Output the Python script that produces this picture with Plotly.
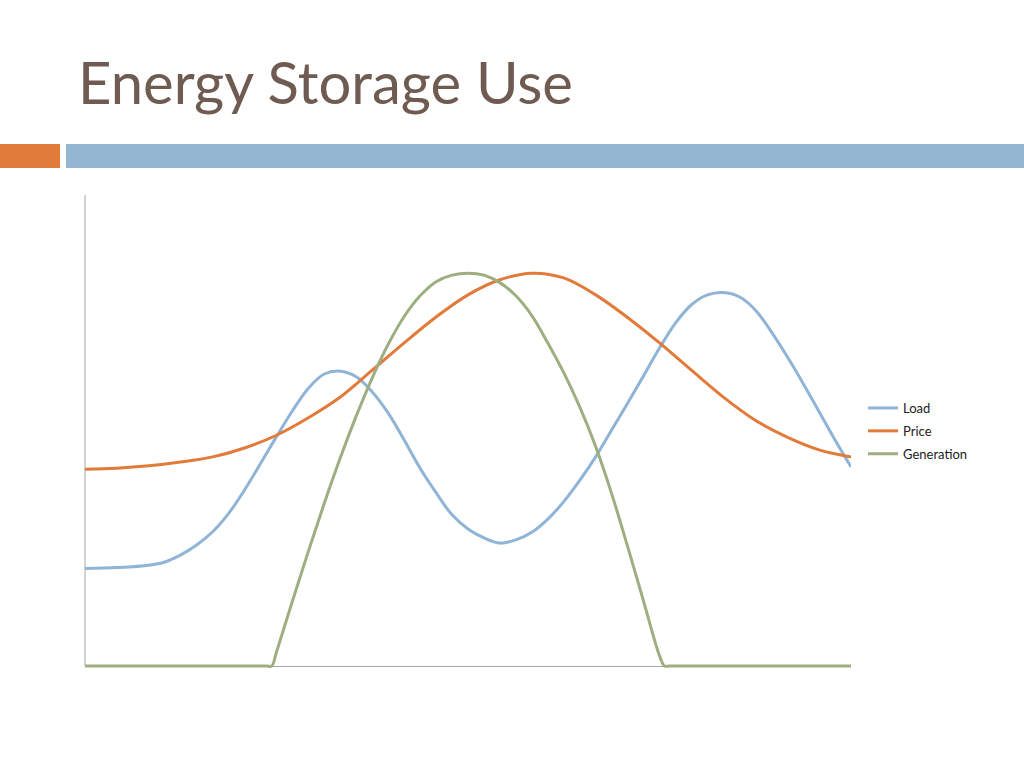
import plotly.graph_objects as go

# Hour of day (x) and relative level (y, 0-100)
load_x = [0, 1, 2, 2.5, 3, 3.5, 4, 4.5, 5, 5.5, 6, 6.5, 7, 7.5, 8, 8.5, 9, 9.5, 10, 10.5,
          11, 11.5, 12, 12.5, 13, 13.5, 14, 14.5, 15, 15.5, 16, 16.5, 17, 17.5, 18, 18.5,
          19, 19.5, 20, 20.5, 21, 21.5, 22, 22.5, 23, 23.5, 24]
load_y = [20.7, 20.9, 21.4, 22.1, 23.6, 25.7, 28.5, 32.4, 37.4, 43.0, 48.7, 54.2, 59.0,
          62.0, 62.6, 61.4, 58.2, 53.7, 48.0, 42.0, 36.8, 32.1, 29.1, 27.2, 26.1, 26.8,
          28.4, 31.2, 34.9, 39.4, 44.4, 50.1, 55.8, 61.6, 67.5, 72.8, 76.7, 78.8, 79.3,
          78.4, 75.6, 71.0, 65.7, 60.0, 54.0, 48.0, 42.3]

price_x = list(range(25))
price_y = [41.8, 42.0, 42.5, 43.3, 44.4, 46.3, 49.0, 52.7, 57.1, 62.8, 68.6, 74.1, 78.8,
           82.0, 83.4, 82.4, 78.8, 74.0, 68.6, 62.8, 57.1, 52.2, 48.6, 45.9, 44.4]

gen_x = [0, 1, 2, 3, 4, 5, 5.5, 5.7, 5.85, 6, 6.5, 7, 7.5, 8, 8.5, 9, 9.5, 10, 10.5, 11,
         11.5, 12, 12.5, 13, 13.5, 14, 14.5, 15, 15.5, 16, 16.5, 17, 17.5, 18, 18.16, 18.3,
         19, 20, 21, 22, 23, 24]
gen_y = [0, 0, 0, 0, 0, 0, 0, 0, 0, 3.0, 13.8, 24.4, 34.6, 44.2, 53.1, 61.2, 68.3, 74.2,
         78.6, 81.6, 83.0, 83.4, 83.0, 81.4, 78.6, 74.4, 68.6, 62.3, 55.0, 46.6, 36.6, 25.4,
         13.8, 2.2, 0, 0, 0, 0, 0, 0, 0, 0]

series_names = ["Load", "Price", "Generation"]
series_colors = ["#8FB4D6", "#E27A3A", "#9DAE80"]

W, H = 1024, 768
fig = go.Figure()
for name, xs, ys, col in zip(series_names, [load_x, price_x, gen_x], [load_y, price_y, gen_y],
                             series_colors):
    fig.add_trace(go.Scatter(x=xs, y=ys, name=name, mode="lines", legendgroup=name,
                             line=dict(color=col, width=3, shape="spline", smoothing=1.0,
                                       simplify=False)))

fig.update_layout(
    width=W, height=H,
    margin=dict(l=0, r=0, t=0, b=0),
    paper_bgcolor="white", plot_bgcolor="white",
    showlegend=True,
    legend=dict(x=863 / W, y=1 - 393 / H, xanchor="left", yanchor="top",
                traceorder="grouped", tracegroupgap=3,
                font=dict(family="Lato", size=13, color="#222222"),
                bgcolor="rgba(0,0,0,0)"),
    xaxis=dict(domain=[85 / W, 851 / W], range=[0, 24], showline=False, showgrid=False,
               zeroline=False, showticklabels=False, ticks=""),
    yaxis=dict(domain=[1 - 671 / H, 1 - 195 / H], range=[-1.05, 100], showline=False,
               showgrid=False, zeroline=True, zerolinecolor="#A6A6A6", zerolinewidth=1,
               showticklabels=False, ticks=""),
    shapes=[
        dict(type="line", xref="paper", yref="paper", x0=85 / W, x1=85 / W,
             y0=1 - 666 / H, y1=1 - 195 / H, line=dict(color="#A6A6A6", width=1), layer="below"),
        dict(type="rect", xref="paper", yref="paper", x0=0, x1=60 / W, y0=1 - 168 / H,
             y1=1 - 144 / H, fillcolor="#E07B39", line=dict(width=0), layer="below"),
        dict(type="rect", xref="paper", yref="paper", x0=66 / W, x1=1, y0=1 - 168 / H,
             y1=1 - 144 / H, fillcolor="#94B6D2", line=dict(width=0), layer="below"),
    ],
    annotations=[
        dict(text="Energy Storage Use", xref="paper", yref="paper", x=76 / W, y=1 - 81 / H,
             xanchor="left", yanchor="middle", showarrow=False,
             font=dict(family="Lato", size=58, color="#6F5B51")),
    ],
)

fig.write_html("out.html", config={"displayModeBar": False},
               post_script="document.body.style.margin='0';")
